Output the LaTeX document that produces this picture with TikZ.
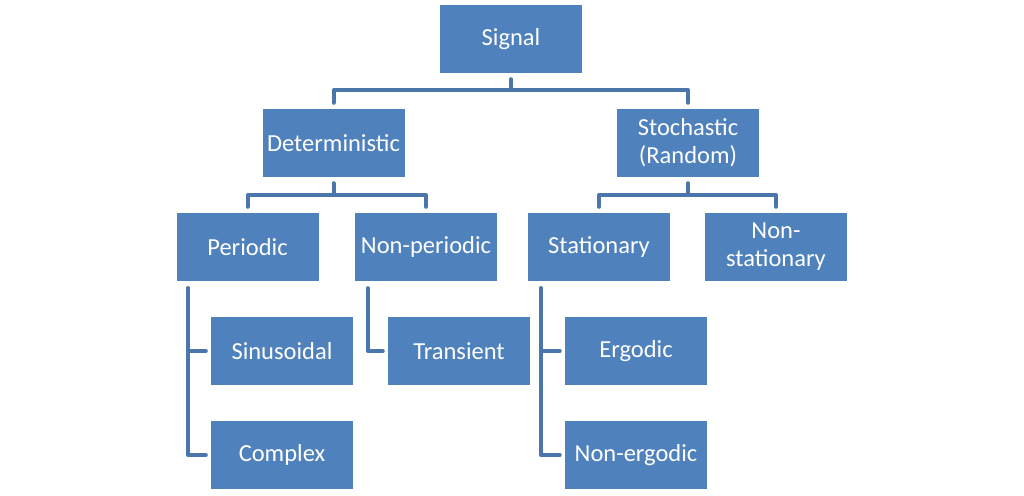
\documentclass[tikz,border=0pt]{standalone}
\usepackage{fontspec}
\setmainfont{Carlito}
\usetikzlibrary{calc}
\definecolor{boxblue}{HTML}{4F81BD}
\definecolor{lineblue}{HTML}{4A76AC}
\begin{document}
\begin{tikzpicture}[x=1pt,y=-1pt,
  box/.style={fill=boxblue,draw=none,minimum width=142pt,minimum height=68pt,inner sep=0pt,
    text=white,align=center,font=\fontsize{24.5}{28}\selectfont},
  conn/.style={draw=lineblue,line width=4pt,line join=round,line cap=round}]
\useasboundingbox (0,0) rectangle (1024,495);
\fill[white] (0,0) rectangle (1024,495);
\node[box] (sig) at (511,39) {Signal};
\node[box] (det) at (333.5,143) {Deterministic};
\node[box] (sto) at (688,143) {Stochastic\\(Random)};
\node[box] (per) at (247.5,247) {Periodic};
\node[box] (non) at (426,247) {Non-periodic};
\node[box] (sta) at (599,247) {Stationary};
\node[box] (nst) at (776,247) {Non-\\stationary};
\node[box] (sin) at (282,351) {Sinusoidal};
\node[box] (tra) at (459,351) {Transient};
\node[box] (erg) at (636,351) {Ergodic};
\node[box] (com) at (282,455) {Complex};
\node[box] (nerg) at (636,455) {Non-ergodic};
% top level
\draw[conn] ($(sig.south)+(0,6)$) -- ($(sig.south)+(0,17)$) -| ($(det.north)+(0,-6)$);
\draw[conn] ($(sig.south)+(0,17)$) -| ($(sto.north)+(0,-6)$);
% second level
\draw[conn] ($(det.south)+(0,6)$) -- ($(det.south)+(0,18)$) -| ($(per.north)+(0,-6)$);
\draw[conn] ($(det.south)+(0,18)$) -| ($(non.north)+(0,-6)$);
\draw[conn] ($(sto.south)+(0,6)$) -- ($(sto.south)+(0,18)$) -| ($(sta.north)+(0,-6)$);
\draw[conn] ($(sto.south)+(0,18)$) -| ($(nst.north)+(0,-6)$);
% side branches
\draw[conn] ($(per.south west)+(12,7)$) |- ($(sin.west)+(-5,0)$);
\draw[conn] ($(per.south west)+(12,7)$) |- ($(com.west)+(-5,0)$);
\draw[conn] ($(non.south west)+(13,7)$) |- ($(tra.west)+(-5,0)$);
\draw[conn] ($(sta.south west)+(13,7)$) |- ($(erg.west)+(-5,0)$);
\draw[conn] ($(sta.south west)+(13,7)$) |- ($(nerg.west)+(-5,0)$);
\end{tikzpicture}
\end{document}
